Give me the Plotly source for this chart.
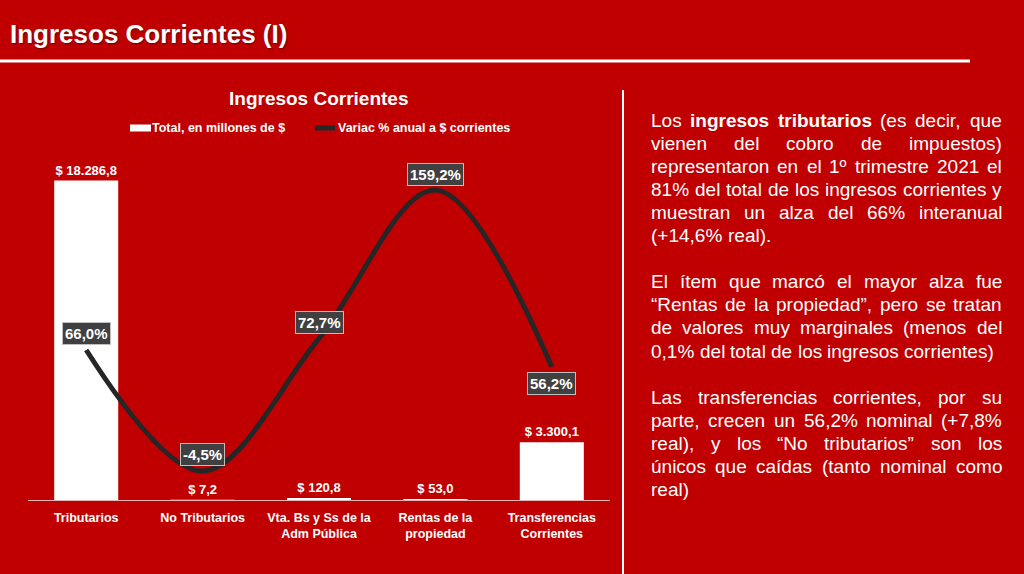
import plotly.graph_objects as go

W, H = 1024, 574
FONT = "Liberation Sans, Arial, sans-serif"
BG = "#C00000"

# ---------------- data ----------------
categories = ["Tributarios", "No Tributarios", "Vta. Bs y Ss de la<br>Adm Pública",
              "Rentas de la<br>propiedad", "Transferencias<br>Corrientes"]
totals = [18286.8, 7.2, 120.8, 53.0, 3300.1]
variation = [66.0, -4.5, 72.7, 159.2, 56.2]
series_names = ["Total, en millones de $", "Variac % anual a $ corrientes"]
chart_title = "Ingresos Corrientes"
page_title = "Ingresos Corrientes (I)"

paragraphs = [
    ["Los *ingresos *tributarios (es decir, que",
     "vienen del cobro de impuestos)",
     "representaron en el 1º trimestre 2021 el",
     "81% del total de los ingresos corrientes y",
     "muestran un alza del 66% interanual",
     "(+14,6% real)."],
    ["El ítem que marcó el mayor alza fue",
     "“Rentas de la propiedad”, pero se tratan",
     "de valores muy marginales (menos del",
     "0,1% del total de los ingresos corrientes)"],
    ["Las transferencias corrientes, por su",
     "parte, crecen un 56,2% nominal (+7,8%",
     "real), y los “No tributarios” son los",
     "únicos que caídas (tanto nominal como",
     "real)"],
]

# ---------------- helpers ----------------
def px_x(p):
    return p / W

def px_y(p):
    return 1 - p / H

REG = {' ': 278, '"': 355, '$': 556, '%': 889, '(': 333, ')': 333, '+': 584, ',': 278,
       '-': 333, '.': 278, 'º': 365, '“': 333, '”': 333,
       'E': 667, 'L': 556, 'N': 722, 'R': 722, 'T': 611, 'V': 667, 'I': 278,
       'a': 556, 'b': 556, 'c': 500, 'd': 556, 'e': 556, 'f': 278, 'g': 556, 'h': 556,
       'i': 222, 'j': 222, 'k': 500, 'l': 222, 'm': 833, 'n': 556, 'o': 556, 'p': 556,
       'q': 556, 'r': 333, 's': 500, 't': 278, 'u': 556, 'v': 500, 'w': 722, 'x': 500,
       'y': 500, 'z': 500, 'í': 278, 'ó': 556, 'ú': 556, 'á': 556, 'é': 556}
for d in "0123456789":
    REG[d] = 556
BOLD = {'a': 556, 'b': 611, 'c': 556, 'd': 611, 'e': 556, 'g': 611, 'i': 278, 'n': 611,
        'o': 611, 'r': 389, 's': 556, 't': 333, 'u': 611, ' ': 278}

def text_width(word, bold, size):
    table = BOLD if bold else REG
    return sum(table.get(c, 556) for c in word) * size / 1000.0

# ---------------- figure ----------------
fig = go.Figure()
fig.add_trace(go.Bar(
    x=categories, y=totals, name=series_names[0],
    marker=dict(color="white", line=dict(width=0)),
    texttemplate="<b>$ %{y:,.1f}</b>", textposition="outside",
    textfont=dict(color="white", size=13, family=FONT),
    cliponaxis=False, showlegend=False,
))
fig.add_trace(go.Scatter(
    x=categories, y=variation, name=series_names[1], yaxis="y2",
    mode="lines", line=dict(color="#262626", width=5, shape="spline", smoothing=1.0),
    showlegend=False, cliponaxis=False,
))

annotations = []
shapes = []

# line value labels
label_offsets = [16, 16, 16, 16, -17]
for c, v, off in zip(categories, variation, label_offsets):
    annotations.append(dict(
        x=c, y=v, xref="x", yref="y2", yshift=off,
        text="<b>" + f"{v:.1f}".replace(".", ",") + "%</b>",
        showarrow=False, font=dict(color="white", size=15, family=FONT),
        bgcolor="#404040", bordercolor="#BFBFBF", borderwidth=1, borderpad=2,
        xanchor="center", yanchor="middle",
    ))

# page title
annotations.append(dict(
    x=px_x(8), y=px_y(34), xref="paper", yref="paper", xanchor="left", yanchor="middle",
    text="<b>" + page_title + "</b>", showarrow=False,
    font=dict(color="white", size=26, family=FONT, shadow="1px 1px 2px rgba(0,0,0,0.45)"),
))
# chart title
annotations.append(dict(
    x=px_x(319), y=px_y(98), xref="paper", yref="paper", xanchor="center", yanchor="middle",
    text="<b>" + chart_title + "</b>", showarrow=False,
    font=dict(color="white", size=19, family=FONT),
))
# custom legend
shapes.append(dict(type="rect", xref="paper", yref="paper",
                   x0=px_x(130), x1=px_x(151), y0=px_y(131.5), y1=px_y(124.5),
                   fillcolor="white", line=dict(width=0)))
annotations.append(dict(
    x=px_x(152), y=px_y(128), xref="paper", yref="paper", xanchor="left", yanchor="middle",
    text="<b>" + series_names[0] + "</b>", showarrow=False, borderpad=0, borderwidth=0,
    font=dict(color="white", size=12.5, family=FONT),
))
shapes.append(dict(type="line", xref="paper", yref="paper",
                   x0=px_x(315), x1=px_x(335), y0=px_y(128), y1=px_y(128),
                   line=dict(color="#262626", width=5)))
annotations.append(dict(
    x=px_x(338), y=px_y(128), xref="paper", yref="paper", xanchor="left", yanchor="middle",
    text="<b>" + series_names[1] + "</b>", showarrow=False, borderpad=0, borderwidth=0,
    font=dict(color="white", size=12.5, family=FONT),
))

# separators
shapes.append(dict(type="line", xref="paper", yref="paper",
                   x0=0, x1=px_x(970), y0=px_y(61), y1=px_y(61),
                   line=dict(color="white", width=3)))
shapes.append(dict(type="line", xref="paper", yref="paper",
                   x0=px_x(623), x1=px_x(623), y0=px_y(90), y1=0,
                   line=dict(color="white", width=2)))

# justified paragraph text
TX0, TX1, TY0, LH, FS = 651, 1002, 120, 23.1, 19
row = 0
for para in paragraphs:
    for li, line in enumerate(para):
        words = []
        for w in line.split():
            bold = w.startswith("*")
            words.append((w.lstrip("*"), bold))
        widths = [text_width(w, b, FS) for w, b in words]
        last = li == len(para) - 1
        if not last and len(words) > 1:
            gap = (TX1 - TX0 - sum(widths)) / (len(words) - 1)
        else:
            gap = text_width(" ", False, FS)
        x = TX0
        y = TY0 + row * LH
        for (w, b), wd in zip(words, widths):
            annotations.append(dict(
                x=px_x(x), y=px_y(y), xref="paper", yref="paper",
                xanchor="left", yanchor="middle", showarrow=False,
                borderpad=0, borderwidth=0,
                text=("<b>" + w + "</b>") if b else w,
                font=dict(color="white", size=FS, family=FONT),
            ))
            x += wd + gap
        row += 1
    row += 1

fig.update_layout(
    width=W, height=H, autosize=False,
    margin=dict(l=0, r=0, t=0, b=0, pad=0),
    paper_bgcolor=BG, plot_bgcolor=BG,
    separators=",.",
    bargap=0.45,
    showlegend=False,
    font=dict(family=FONT, color="white"),
    xaxis=dict(domain=[px_x(28), px_x(610)], showline=True, linecolor="rgba(235,200,200,0.9)",
               linewidth=1, showgrid=False, zeroline=False, ticks="",
               tickfont=dict(color="white", size=12.5, family=FONT),
               ticklabelstandoff=6, fixedrange=True),
    yaxis=dict(domain=[px_y(500), px_y(150)], range=[0, 20033], visible=False, fixedrange=True),
    yaxis2=dict(overlaying="y", range=[-21.4, 182.5], visible=False, fixedrange=True),
    annotations=annotations,
    shapes=shapes,
)
# bold tick labels
fig.update_xaxes(tickvals=categories, ticktext=["<b>" + c + "</b>" for c in categories])

fig.write_html(
    "out.html",
    config={"displayModeBar": False, "staticPlot": True},
    post_script="document.body.style.margin='0';document.body.style.overflow='hidden';"
                "document.body.style.background='" + BG + "';",
)
